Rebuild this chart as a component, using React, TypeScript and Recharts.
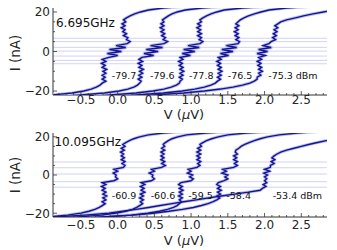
import React from 'react';
import { ScatterChart, Scatter, XAxis, YAxis, ReferenceLine, ReferenceDot, Label } from 'recharts';

const FONT = '"DejaVu Sans", sans-serif';
const AX = '#333333';
const TXT = '#262626';
const DARK = '#14148e';
const HALO = '#bcc0f0';
const SWITCH = '#d2d2f5';

// ---------- axes ----------
const xDomain = [-0.88, 2.85];
const yDomain = [-22, 22];
const xMajorTicks = [-0.5, 0, 0.5, 1, 1.5, 2, 2.5];
const xMajorLabels = ['\u22120.5', '0.0', '0.5', '1.0', '1.5', '2.0', '2.5'];
const xAllTicks = [-0.8, -0.7, -0.6, -0.5, -0.4, -0.3, -0.2, -0.1, 0, 0.1, 0.2, 0.3, 0.4, 0.5, 0.6, 0.7, 0.8, 0.9, 1, 1.1, 1.2, 1.3, 1.4, 1.5, 1.6, 1.7, 1.8, 1.9, 2, 2.1, 2.2, 2.3, 2.4, 2.5, 2.6, 2.7, 2.8];
const yMajorTicks = [-20, 0, 20];
const yMajorLabels = ['\u221220', '0', '20'];
const yAllTicks = [-20, -15, -10, -5, 0, 5, 10, 15, 20];

// ---------- shared current grid (nA) ----------
const currentGrid = [23, 22, 21, 20, 19, 18, 17, 16, 15, 14, 13, 12, 11, 10, 9, 8, 7, 6, 5, 4, 3, 2, 1, 0, -1, -2, -3, -4, -5, -6, -7, -8, -9, -10, -11, -12, -13, -14, -15, -16, -17, -18, -19, -20, -21, -22, -23];

// ---------- top panel (6.695 GHz) voltages (µV) ----------
const topV0 = [0.95, 0.62, 0.42, 0.31, 0.23, 0.17, 0.12, 0.08, 0.11, 0.06, 0.1, 0.05, 0.1, 0.07, 0.12, 0.08, 0.14, 0.12, 0.17, 0.13, -0.02, 0.11, -0.11, 0.05, -0.14, 0.0, -0.12, -0.21, -0.16, -0.22, -0.17, -0.21, -0.15, -0.2, -0.16, -0.21, -0.17, -0.21, -0.16, -0.21, -0.24, -0.29, -0.36, -0.46, -0.62, -0.9, -1.3];
const topV1 = [1.5, 1.15, 0.92, 0.81, 0.74, 0.69, 0.65, 0.61, 0.63, 0.59, 0.63, 0.58, 0.63, 0.59, 0.64, 0.6, 0.65, 0.62, 0.68, 0.63, 0.45, 0.61, 0.39, 0.55, 0.36, 0.49, 0.33, 0.29, 0.34, 0.28, 0.33, 0.29, 0.35, 0.3, 0.34, 0.29, 0.33, 0.28, 0.32, 0.3, 0.27, 0.22, 0.14, 0.02, -0.18, -0.5, -0.9];
const topV2 = [2.1, 1.7, 1.45, 1.35, 1.27, 1.21, 1.16, 1.12, 1.14, 1.09, 1.13, 1.08, 1.13, 1.09, 1.14, 1.09, 1.14, 1.11, 1.16, 1.12, 0.96, 1.11, 0.9, 1.05, 0.88, 0.99, 0.85, 0.89, 0.83, 0.88, 0.84, 0.89, 0.85, 0.9, 0.85, 0.89, 0.84, 0.88, 0.85, 0.84, 0.8, 0.73, 0.63, 0.48, 0.25, -0.1, -0.5];
const topV3 = [2.7, 2.3, 2.06, 1.95, 1.86, 1.78, 1.72, 1.67, 1.64, 1.61, 1.65, 1.6, 1.64, 1.59, 1.64, 1.6, 1.65, 1.61, 1.66, 1.64, 1.48, 1.62, 1.42, 1.57, 1.4, 1.51, 1.37, 1.41, 1.35, 1.4, 1.36, 1.41, 1.37, 1.42, 1.37, 1.41, 1.36, 1.4, 1.36, 1.33, 1.27, 1.18, 1.05, 0.88, 0.62, 0.25, -0.2];
const topV4 = [3.4, 3.2, 2.98, 2.8, 2.66, 2.53, 2.42, 2.3, 2.22, 2.18, 2.14, 2.18, 2.13, 2.17, 2.12, 2.16, 2.11, 2.15, 2.09, 2.06, 1.98, 2.09, 1.92, 2.04, 1.9, 2.01, 1.92, 1.96, 1.9, 1.95, 1.91, 1.96, 1.92, 1.97, 1.92, 1.95, 1.9, 1.9, 1.86, 1.8, 1.7, 1.57, 1.4, 1.18, 0.9, 0.5, 0.0];
const topSwitchCurrents = [6.7, 5.0, 2.1, 0.2, -2.3, -4.5, -6.2];
const topFreq = '6.695GHz';
const topPowers = ['-79.7', '-79.6', '-77.8', '-76.5', '-75.3 dBm'];
const topPowerV = [-0.08, 0.44, 0.97, 1.5, 2.05];
const topPowerI = -12.4;

// ---------- bottom panel (10.095 GHz) voltages (µV) ----------
const botV0 = [1.0, 0.62, 0.42, 0.3, 0.22, 0.16, 0.11, 0.07, 0.1, 0.05, 0.09, 0.04, 0.08, 0.05, 0.09, 0.05, 0.1, 0.06, 0.1, 0.08, -0.05, 0.0, -0.06, -0.02, -0.03, 0.0, -0.05, -0.21, -0.16, -0.22, -0.17, -0.21, -0.16, -0.2, -0.15, -0.2, -0.16, -0.21, -0.17, -0.21, -0.25, -0.31, -0.39, -0.5, -0.68, -0.95, -1.35];
const botV1 = [1.6, 1.2, 0.94, 0.82, 0.74, 0.69, 0.65, 0.62, 0.64, 0.6, 0.64, 0.59, 0.63, 0.59, 0.63, 0.59, 0.64, 0.6, 0.65, 0.6, 0.46, 0.5, 0.43, 0.48, 0.47, 0.5, 0.46, 0.32, 0.37, 0.31, 0.36, 0.32, 0.37, 0.31, 0.35, 0.3, 0.35, 0.31, 0.34, 0.3, 0.26, 0.2, 0.11, -0.02, -0.22, -0.55, -1.0];
const botV2 = [2.2, 1.75, 1.5, 1.37, 1.28, 1.21, 1.16, 1.12, 1.14, 1.09, 1.13, 1.08, 1.13, 1.08, 1.12, 1.08, 1.13, 1.09, 1.12, 1.08, 0.96, 1.0, 0.95, 1.02, 0.98, 1.03, 1.0, 0.86, 0.83, 0.88, 0.84, 0.89, 0.84, 0.88, 0.83, 0.88, 0.84, 0.87, 0.84, 0.81, 0.76, 0.68, 0.57, 0.41, 0.18, -0.2, -0.6];
const botV3 = [2.8, 2.45, 2.2, 2.04, 1.94, 1.86, 1.79, 1.73, 1.68, 1.65, 1.61, 1.6, 1.63, 1.58, 1.62, 1.58, 1.63, 1.59, 1.63, 1.58, 1.43, 1.48, 1.42, 1.5, 1.46, 1.5, 1.45, 1.37, 1.35, 1.4, 1.36, 1.41, 1.36, 1.4, 1.35, 1.39, 1.35, 1.3, 1.23, 1.14, 1.03, 0.88, 0.7, 0.48, 0.2, -0.2, -0.7];
const botV4 = [3.7, 3.5, 3.3, 3.12, 2.98, 2.84, 2.72, 2.6, 2.5, 2.4, 2.3, 2.22, 2.17, 2.13, 2.1, 2.14, 2.09, 2.13, 2.08, 2.08, 2.0, 2.07, 1.99, 2.04, 2.0, 2.03, 2.0, 2.03, 1.98, 2.02, 1.97, 1.94, 1.78, 1.59, 1.41, 1.24, 1.07, 0.9, 0.74, 0.58, 0.42, 0.25, 0.07, -0.12, -0.45, -0.85, -1.3];
const botSwitchCurrents = [6.8, 3.8, 0.5, -3.5, -6.4];
const botFreq = '10.095GHz';
const botPowers = ['-60.9', '-60.6', '-59.5', '-58.4', '-53.4 dBm'];
const botPowerV = [-0.08, 0.45, 0.96, 1.48, 2.11];
const botPowerI = -11;

const toPoints = (vs: number[]) => currentGrid.map((i, k) => ({ v: vs[k], i }));

const near = (a: number, b: number) => Math.abs(a - b) < 1e-6;

function xTickRenderer(side: 'bottom' | 'top', labelGap: number) {
  return (p: any) => {
    const { x, y, payload } = p;
    const idx = xMajorTicks.findIndex((t) => near(t, payload.value));
    const major = idx >= 0;
    const len = major ? 4 : 2;
    const dir = side === 'bottom' ? -1 : 1;
    return (
      <g>
        <line x1={x} x2={x} y1={y} y2={y + dir * len} stroke={AX} strokeWidth={0.8} />
        {major && side === 'bottom' ? (
          <text x={x} y={y + labelGap} dy="0.72em" textAnchor="middle" fontFamily={FONT} fontSize={12} fill={TXT}>
            {xMajorLabels[idx]}
          </text>
        ) : null}
      </g>
    );
  };
}

function yTickRenderer(side: 'left' | 'right') {
  return (p: any) => {
    const { x, y, payload } = p;
    const idx = yMajorTicks.findIndex((t) => near(t, payload.value));
    const major = idx >= 0;
    const len = major ? 4 : 2;
    const dir = side === 'left' ? 1 : -1;
    return (
      <g>
        <line x1={x} x2={x + dir * len} y1={y} y2={y} stroke={AX} strokeWidth={0.8} />
        {major && side === 'left' ? (
          <text x={x - 3} y={y} dy="0.36em" textAnchor="end" fontFamily={FONT} fontSize={12} fill={TXT}>
            {yMajorLabels[idx]}
          </text>
        ) : null}
      </g>
    );
  };
}

type PanelProps = {
  top: number;
  height: number;
  marginTop: number;
  xAxisHeight: number;
  labelGap: number;
  curves: number[][];
  switches: number[];
  freq: string;
  freqV: number;
  freqI: number;
  powers: string[];
  powerV: number[];
  powerI: number;
  xTitleY: number;
  yTitleY: number;
};

function Panel(props: PanelProps) {
  const { top, height, marginTop, xAxisHeight, labelGap, curves, switches, freq, freqV, freqI, powers, powerV, powerI, xTitleY, yTitleY } = props;
  return (
    <div style={{ position: 'absolute', left: 0, top, width: 337, height }}>
      <ScatterChart width={337} height={height} margin={{ top: marginTop, right: 10, bottom: 0, left: 0 }}>
        <XAxis
          xAxisId="b"
          type="number"
          dataKey="v"
          domain={xDomain}
          ticks={xAllTicks}
          interval={0}
          allowDataOverflow
          height={xAxisHeight}
          tickSize={0}
          tickMargin={0}
          tickLine={false}
          axisLine={{ stroke: AX, strokeWidth: 1 }}
          tick={xTickRenderer('bottom', labelGap)}
        >
          <Label
            content={() => (
              <text x={184} y={xTitleY} dy="0.36em" textAnchor="middle" fontFamily={FONT} fontSize={13} fill={TXT}>
                V (<tspan fontStyle="italic">μ</tspan>V)
              </text>
            )}
          />
        </XAxis>
        <XAxis
          xAxisId="t"
          orientation="top"
          type="number"
          dataKey="v"
          domain={xDomain}
          ticks={xAllTicks}
          interval={0}
          allowDataOverflow
          height={0}
          tickSize={0}
          tickMargin={0}
          tickLine={false}
          axisLine={{ stroke: AX, strokeWidth: 1 }}
          tick={xTickRenderer('top', 0)}
        />
        <YAxis
          yAxisId="l"
          type="number"
          dataKey="i"
          domain={yDomain}
          ticks={yAllTicks}
          interval={0}
          allowDataOverflow
          width={53}
          tickSize={0}
          tickMargin={0}
          tickLine={false}
          axisLine={{ stroke: AX, strokeWidth: 1 }}
          tick={yTickRenderer('left')}
        >
          <Label
            content={() => (
              <text
                x={15}
                y={yTitleY}
                dy="0.36em"
                textAnchor="middle"
                fontFamily={FONT}
                fontSize={13.5}
                fill={TXT}
                transform={`rotate(-90, 15, ${yTitleY})`}
              >
                I (nA)
              </text>
            )}
          />
        </YAxis>
        <YAxis
          yAxisId="r"
          orientation="right"
          type="number"
          dataKey="i"
          domain={yDomain}
          ticks={yAllTicks}
          interval={0}
          allowDataOverflow
          width={0}
          tickSize={0}
          tickMargin={0}
          tickLine={false}
          axisLine={{ stroke: AX, strokeWidth: 1 }}
          tick={yTickRenderer('right')}
        />
        {switches.map((s, k) => (
          <ReferenceLine key={'s' + k} xAxisId="b" yAxisId="l" y={s} stroke={SWITCH} strokeWidth={1} />
        ))}
        {curves.map((c, k) => (
          <Scatter
            key={'h' + k}
            xAxisId="b"
            yAxisId="l"
            data={toPoints(c)}
            line={{ stroke: HALO, strokeWidth: 3.2, strokeLinejoin: 'round' }}
            shape={() => <g />}
            isAnimationActive={false}
          />
        ))}
        {curves.map((c, k) => (
          <Scatter
            key={'d' + k}
            xAxisId="b"
            yAxisId="l"
            data={toPoints(c)}
            line={{ stroke: DARK, strokeWidth: 1.4, strokeLinejoin: 'miter' }}
            shape={() => <g />}
            isAnimationActive={false}
          />
        ))}
        <ReferenceDot
          xAxisId="b"
          yAxisId="l"
          x={freqV}
          y={freqI}
          r={0}
          ifOverflow="visible"
          shape={(p: any) => (
            <text x={p.cx} y={p.cy} dy="0.36em" fontFamily={FONT} fontSize={12} fill="#111">
              {freq}
            </text>
          )}
        />
        {powers.map((s, k) => (
          <ReferenceDot
            key={'p' + k}
            xAxisId="b"
            yAxisId="l"
            x={powerV[k]}
            y={powerI}
            r={0}
            ifOverflow="visible"
            shape={(p: any) => (
              <text x={p.cx} y={p.cy} dy="0.36em" fontFamily={FONT} fontSize={9.5} fill="#111">
                {s}
              </text>
            )}
          />
        ))}
      </ScatterChart>
    </div>
  );
}

export default function App() {
  return (
    <div style={{ position: 'absolute', left: 0, top: 0, width: 337, height: 250, background: '#fff' }}>
      <Panel
        top={0}
        height={122}
        marginTop={8}
        xAxisHeight={27}
        labelGap={0}
        curves={[topV0, topV1, topV2, topV3, topV4]}
        switches={topSwitchCurrents}
        freq={topFreq}
        freqV={-0.84}
        freqI={14.4}
        powers={topPowers}
        powerV={topPowerV}
        powerI={topPowerI}
        xTitleY={114}
        yTitleY={53}
      />
      <Panel
        top={122}
        height={128}
        marginTop={11}
        xAxisHeight={33}
        labelGap={3}
        curves={[botV0, botV1, botV2, botV3, botV4]}
        switches={botSwitchCurrents}
        freq={botFreq}
        freqV={-0.86}
        freqI={17.5}
        powers={botPowers}
        powerV={botPowerV}
        powerI={botPowerI}
        xTitleY={118}
        yTitleY={53}
      />
    </div>
  );
}
